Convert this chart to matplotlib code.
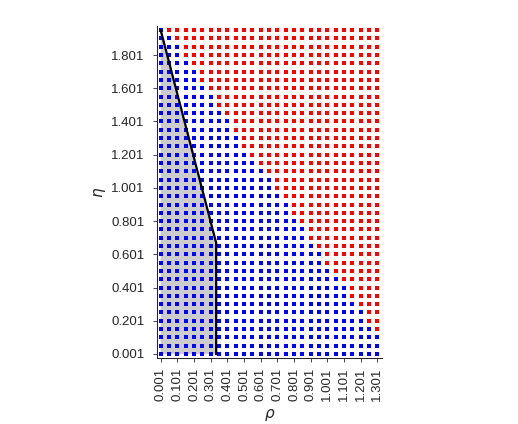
import numpy as np
from matplotlib import pyplot as plt

# grid of parameter values
rho = [0.001, 0.051, 0.101, 0.151, 0.201, 0.251, 0.301, 0.351, 0.401, 0.451,
       0.501, 0.551, 0.601, 0.651, 0.701, 0.751, 0.801, 0.851, 0.901, 0.951,
       1.001, 1.051, 1.101, 1.151, 1.201, 1.251, 1.301]
eta = [0.001, 0.051, 0.101, 0.151, 0.201, 0.251, 0.301, 0.351, 0.401, 0.451,
       0.501, 0.551, 0.601, 0.651, 0.701, 0.751, 0.801, 0.851, 0.901, 0.951,
       1.001, 1.051, 1.101, 1.151, 1.201, 1.251, 1.301, 1.351, 1.401, 1.451,
       1.501, 1.551, 1.601, 1.651, 1.701, 1.751, 1.801, 1.851, 1.901, 1.951]

# number of blue (stable) points in each eta row, from left
n_blue = [27, 27, 27, 26, 25, 25, 24, 23, 23, 22, 21, 20, 20, 19, 18, 18, 17, 16, 16, 15,
          14, 14, 13, 12, 11, 10, 10, 9, 9, 8, 7, 7, 6, 5, 5, 4, 3, 3, 2, 1]

# boundary curve
line_rho = [0.001, 0.334, 0.334]
line_eta = [1.951, 0.67, 0.001]

xticks = [0.001, 0.101, 0.201, 0.301, 0.401, 0.501, 0.601, 0.701, 0.801, 0.901,
          1.001, 1.101, 1.201, 1.301]
yticks = [0.001, 0.201, 0.401, 0.601, 0.801, 1.001, 1.201, 1.401, 1.601, 1.801]

plt.rcParams['font.family'] = ['Liberation Sans', 'DejaVu Sans']
axcol = '#262626'

fig = plt.figure(figsize=(5.18, 4.24), dpi=100)
ax = fig.add_axes([0.3031, 0.1557, 0.4344, 0.783])

blue_x, blue_y, red_x, red_y = [], [], [], []
for j, e in enumerate(eta):
    for i, r in enumerate(rho):
        if i < n_blue[j]:
            blue_x.append(r)
            blue_y.append(e)
        else:
            red_x.append(r)
            red_y.append(e)

# shaded region left of the boundary
ax.fill(line_rho + [line_rho[0]], line_eta + [line_eta[-1]], color='0.8', lw=0, zorder=1)

ax.plot(blue_x, blue_y, 's', color='b', ms=3.0, mew=0, zorder=2)
ax.plot(red_x, red_y, 's', color='r', ms=3.0, mew=0, zorder=2)
ax.plot(line_rho, line_eta, color='k', lw=1.6, zorder=3)

ax.set_xlim(-0.021, 1.329)
ax.set_ylim(-0.023, 1.976)
ax.set_xticks(xticks)
ax.set_xticklabels(['%.3f' % v for v in xticks], rotation=90)
ax.set_yticks(yticks)
ax.set_yticklabels(['%.3f' % v for v in yticks])

for s in ['top', 'right']:
    ax.spines[s].set_visible(False)
for s in ['left', 'bottom']:
    ax.spines[s].set_color(axcol)
    ax.spines[s].set_linewidth(0.75)
ax.tick_params(direction='out', length=3, width=0.6, colors=axcol, labelsize=9.5)
ax.tick_params(axis='x', pad=4)
ax.tick_params(axis='y', pad=6)

ax.set_xlabel(r'$\rho$', fontsize=11, color=axcol, labelpad=4)
ax.set_ylabel(r'$\eta$', fontsize=11, color=axcol, labelpad=2)

fig.savefig('out.png', dpi=100)
